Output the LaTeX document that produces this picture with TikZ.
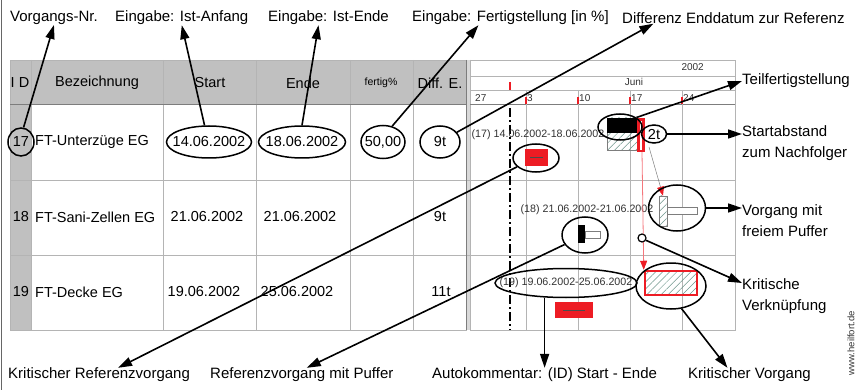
\documentclass[tikz,border=0pt]{standalone}
\usepackage{fontspec}
\setmainfont{Liberation Sans}
\usetikzlibrary{arrows.meta,positioning,calc,shapes.geometric,patterns.meta}
\definecolor{headgray}{RGB}{192,192,192}
\definecolor{linegray}{RGB}{180,180,180}
\definecolor{darkline}{RGB}{125,125,125}
\definecolor{barred}{RGB}{237,28,36}
\definecolor{hatchgreen}{RGB}{110,150,140}
\definecolor{ganttext}{RGB}{50,50,50}

\begin{document}
\begin{tikzpicture}[
    x=1pt, y=-1pt,
    >={Triangle[length=14pt,width=9pt]}
]

\tikzset{
    lbl/.style={font=\fontsize{15}{21}\selectfont, inner sep=0pt, align=left},
    cell/.style={font=\fontsize{14.5}{17}\selectfont, inner sep=0pt},
    tinytxt/.style={font=\fontsize{10}{12}\selectfont, inner sep=0pt, text=ganttext},
    gtxt/.style={font=\fontsize{10.7}{12}\selectfont, inner sep=0pt, text=ganttext},
    oval/.style={ellipse, draw, line width=1.5pt, inner sep=0pt},
    arr/.style={->, line width=1.6pt},
    gline/.style={draw=linegray, line width=0.8pt},
    hatch/.style={pattern={Lines[angle=45,distance=5pt,line width=0.5pt]}, pattern color=hatchgreen}
}

\useasboundingbox (0,0) rectangle (859,390);
\draw[black!60, line width=1pt] (1,0) -- (1,390);

% table
\fill[headgray] (10,60) rectangle (466,105);
\fill[headgray] (10,105) rectangle (31,330);
\fill[headgray!60] (466,60) rectangle (470,330);
\foreach \x in {31,163,256,350,413}
    \draw[gline] (\x,60) -- (\x,330);
\foreach \y in {180,255}
    \draw[gline] (10,\y) -- (735,\y);
\draw[gline] (10,60) rectangle (466,330);
\draw[darkline, line width=1pt] (10,105) -- (466,105);
\draw[darkline, line width=1pt] (466,60) -- (466,330) (470,60) -- (470,330);

\node[cell] at (20,83) {I D};
\node[cell] at (97,83) {Bezeichnung};
\node[cell] at (210,83) {Start};
\node[cell] at (303,83) {Ende};
\node[font=\fontsize{10.5}{12}\selectfont, inner sep=0pt] at (381,83) {fertig\%};
\node[cell] at (440,83) {Diff. E.};

\node[cell] (id17) at (21,142) {17};
\node[cell] (id18) at (21,217) {18};
\node[cell] (id19) at (21,292) {19};
\node[cell, anchor=west] (name17) at (35,142) {FT-Unterzüge EG};
\node[cell, anchor=west] (name18) at (35,217) {FT-Sani-Zellen EG};
\node[cell, anchor=west] (name19) at (35,292) {FT-Decke EG};

\node[cell] (start17) at (209,142) {14.06.2002};
\node[cell] (ende17) at (302,142) {18.06.2002};
\node[cell] (fert17) at (383,142) {50,00};
\node[cell] (diff17) at (440,142) {9t};
\node[cell] (start18) at (207,217) {21.06.2002};
\node[cell] (ende18) at (300,217) {21.06.2002};
\node[cell] (diff18) at (440,217) {9t};
\node[cell] (start19) at (204,292) {19.06.2002};
\node[cell] (ende19) at (297,292) {25.06.2002};
\node[cell] (diff19) at (441,292) {11t};

% gantt header and grid
\draw[gline] (470,60) rectangle (735,330);
\draw[gline] (470,76) -- (735,76) (470,90) -- (735,90);
\draw[darkline, line width=1pt] (470,105) -- (735,105);
\foreach \x in {526,578,630,682}
    \draw[gline] (\x,90) -- (\x,330);
\node[tinytxt, anchor=east] at (704,67) {2002};
\node[tinytxt] at (634,82) {Juni};
\foreach \x/\d in {474/27,526/3,578/10,630/17,682/24}
    \node[tinytxt, anchor=west] at (\x+1,98) {\d};
\draw[barred, line width=2pt] (510,82) -- (510,90);
\foreach \x in {526,578,630,682}
    \draw[barred, line width=2pt] (\x,97) -- (\x,104);
\draw[line width=1.4pt, dash pattern=on 9pt off 3pt on 2pt off 3pt] (510,108) -- (510,330);

% row 17
\node[gtxt] (txt17) at (538,135) {(17) 14.06.2002-18.06.2002};
\node[fill=barred, minimum width=23pt, minimum height=17pt, inner sep=0pt] (rb17) at (536,158) {};
\draw[black!70, line width=1pt] (530,158) -- (543,158);
\draw[darkline, line width=0.6pt, hatch] (607,118) rectangle (637,150);
\fill (607,118) rectangle (637,133);
\draw[barred, line width=2.5pt, fill=white] (638.5,119.5) rectangle (643.5,151);
\node[cell] (t2t) at (654,134) {2t};

% row 18
\node[gtxt] (txt18) at (587,210) {(18) 21.06.2002-21.06.2002};
\node[draw=darkline, line width=0.6pt, hatch, minimum width=8pt, minimum height=30pt, inner sep=0pt] (hb18) at (663,211) {};
\draw[darkline, line width=0.6pt, fill=white] (667,207) rectangle (697,214);
\fill (578,225) rectangle (585,243);
\draw[darkline, line width=0.6pt, fill=white] (585,231) rectangle (600,238);

% row 19
\node[gtxt] (txt19) at (566,283) {(19) 19.06.2002-25.06.2002};
\fill[barred] (555,302) rectangle (593,318);
\draw[black!70, line width=1pt] (563,310) -- (585,310);
\node[draw=barred, line width=2.5pt, hatch, minimum width=52pt, minimum height=24pt, inner sep=0pt] (kb19) at (671,283) {};

% links
\draw[barred!60, line width=0.8pt, -{Triangle[length=9pt,width=7pt,color=barred]}] (642,152) -- (kb19.north west);
\draw[darkline, line width=0.5pt, -{Triangle[length=9pt,width=7pt,color=barred]}] (649,147) -- (hb18.north);
\node[circle, draw, line width=1.2pt, fill=white, minimum size=8pt, inner sep=0pt] (ckv) at (642,238) {};

% ovals
\node[oval, minimum width=26pt, minimum height=28pt] (oid) at (id17) {};
\node[oval, minimum width=85pt, minimum height=32pt] (ostart) at (start17) {};
\node[oval, minimum width=87pt, minimum height=32pt] (oende) at (ende17) {};
\node[oval, minimum width=44pt, minimum height=33pt] (ofert) at (fert17) {};
\node[oval, minimum width=40pt, minimum height=32pt] (odiff) at (diff17) {};
\node[oval, minimum width=46pt, minimum height=28pt] (orb17) at (rb17) {};
\node[oval, minimum width=44pt, minimum height=26pt] (oteil) at (620,127) {};
\node[oval, minimum width=25pt, minimum height=18pt] (o2t) at (t2t) {};
\node[oval, minimum width=57pt, minimum height=46pt] (opuf) at (677,208) {};
\node[oval, minimum width=46pt, minimum height=36pt] (oref18) at (585,235) {};
\node[oval, minimum width=142pt, minimum height=29pt] (oauto) at (txt19) {};
\node[oval, minimum width=70pt, minimum height=46pt] (okrit) at (671,286) {};

% labels
\node[lbl, anchor=west] (lnr) at (10,18) {Vorgangs-Nr.};
\node[lbl, anchor=west] (lanf) at (115,18) {Eingabe: Ist-Anfang};
\node[lbl, anchor=west] (lende) at (268,18) {Eingabe: Ist-Ende};
\node[lbl, anchor=west] (lfert) at (412,18) {Eingabe: Fertigstellung [in \%]};
\node[lbl, anchor=west] (ldiff) at (622,18) {Differenz Enddatum zur Referenz};
\node[lbl, anchor=west] (lteil) at (742,81) {Teilfertigstellung};
\node[lbl, anchor=west] (lstart) at (742,143) {Startabstand\\zum Nachfolger};
\node[lbl, anchor=west] (lpuf) at (742,221) {Vorgang mit\\freiem Puffer};
\node[lbl, anchor=west] (lkv) at (742,296) {Kritische\\Verknüpfung};
\node[lbl, anchor=west] (lkref) at (8,375) {Kritischer Referenzvorgang};
\node[lbl, anchor=west] (lrefp) at (210,375) {Referenzvorgang mit Puffer};
\node[lbl, anchor=west] (lauto) at (432,375) {Autokommentar: (ID) Start - Ende};
\node[lbl, anchor=west] (lkrit) at (688,375) {Kritischer Vorgang};
\node[font=\fontsize{9.5}{11}\selectfont, text=ganttext, rotate=90, inner sep=0pt] (web) at (851,343) {www.heilfort.de};

% annotation arrows
\draw[arr] (oid.80) -- (lnr.south);
\draw[arr] (ostart.105) -- (lanf.south);
\draw[arr] (oende.90) -- ([xshift=-10pt]lende.south);
\draw[arr] (ofert.60) -- ([xshift=-32pt]lfert.south);
\draw[arr] (odiff.30) -- ([xshift=-80pt]ldiff.south);
\draw[arr] (oteil.30) -- (lteil.west);
\draw[arr] (o2t.east) -- (o2t.east -| lstart.west);
\draw[arr] (opuf.east) -- (opuf.east -| lpuf.west);
\draw[arr] (ckv.-30) -- ([yshift=13pt]lkv.west);
\draw[arr] (okrit.-65) -- ([xshift=-22pt]lkrit.north);
\draw[arr] (lauto.north |- oauto.south) -- (lauto.north);
\draw[arr] (orb17.205) -- ([xshift=19pt]lkref.north);
\draw[arr] (oref18.205) -- ([xshift=5pt]lrefp.north);

\end{tikzpicture}
\end{document}
